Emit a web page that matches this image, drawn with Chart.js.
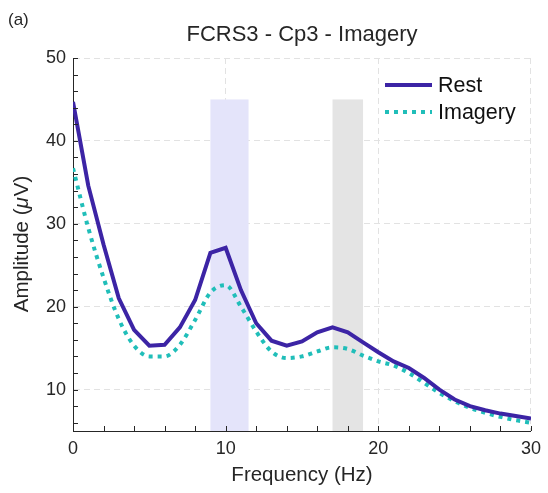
<!DOCTYPE html>
<html>
<head>
<meta charset="utf-8">
<script src="https://cdn.jsdelivr.net/npm/chart.js"></script>
<style>
  html,body{margin:0;padding:0;background:#fff;}
  #wrap{width:548px;height:493px;}
</style>
</head>
<body>
<div id="wrap"><canvas id="fig"></canvas></div>
<script>
// values
const freqs   = [0,1,2,3,4,5,6,7,8,9,10,11,12,13,14,15,16,17,18,19,20,21,22,23,24,25,26,27,28,29,30];
const rest    = [44.7,34.6,27.5,21.0,17.2,15.3,15.4,17.5,20.8,26.5,27.1,22.0,18.0,15.9,15.3,15.8,16.9,17.5,16.9,15.7,14.5,13.4,12.6,11.4,10.0,8.8,8.0,7.5,7.1,6.8,6.5];
const imagery = [36.7,29.5,23.5,18.5,15.3,14.0,14.0,15.4,18.4,21.7,22.6,20.0,17.0,14.6,13.8,14.0,14.6,15.1,14.9,14.1,13.4,12.9,12.0,10.8,9.6,8.6,7.8,7.2,6.7,6.3,6.0];
const xTicks  = [0,10,20,30];
const yTicks  = [10,20,30,40,50];
const bandFrom = [9,17];
const bandTo   = [11.5,19];
const bandTop  = 45;

const FONT = '"Liberation Sans", Arial, Helvetica, sans-serif';
const INK = '#262626';
const REST_C = 'rgb(60,36,165)';
const IMG_C = 'rgb(32,190,185)';
const BAND_C = ['rgba(228,228,250,1)','rgba(228,228,228,1)'];

const bands = {
  id:'bands',
  beforeDatasetsDraw(c){
    const {ctx,chartArea:a,scales:{x,y}} = c;
    ctx.save();
    bandFrom.forEach((f,i)=>{
      const x0=x.getPixelForValue(f), x1=x.getPixelForValue(bandTo[i]);
      const y0=y.getPixelForValue(bandTop);
      ctx.fillStyle=BAND_C[i];
      ctx.fillRect(x0,y0,x1-x0,a.bottom-y0);
    });
    ctx.restore();
  }
};

const deco = {
  id:'deco',
  afterDraw(c){
    const {ctx,chartArea:a,scales:{x,y}} = c;
    ctx.save();
    // inward ticks every 2 units
    ctx.strokeStyle=INK; ctx.lineWidth=1;
    ctx.beginPath();
    for(let v=0; v<=30; v+=2){ const px=Math.round(x.getPixelForValue(v))+0.5; ctx.moveTo(px,a.bottom); ctx.lineTo(px,a.bottom-5); }
    for(let v=6; v<=50; v+=2){ const py=Math.round(y.getPixelForValue(v))+0.5; ctx.moveTo(a.left,py); ctx.lineTo(a.left+5,py); }
    ctx.stroke();

    ctx.fillStyle=INK;
    // panel tag
    ctx.font='17px '+FONT; ctx.textAlign='left'; ctx.textBaseline='alphabetic';
    ctx.fillText('(a)',8,25);
    // title
    ctx.font='22px '+FONT; ctx.textAlign='center';
    ctx.fillText('FCRS3 - Cp3 - Imagery',(a.left+a.right)/2,41);
    // x title
    ctx.font='20.5px '+FONT;
    ctx.fillText('Frequency (Hz)',(a.left+a.right)/2,481);
    // y title with italic mu
    ctx.save();
    ctx.translate(28,(a.top+a.bottom)/2);
    ctx.rotate(-Math.PI/2);
    const p1='Amplitude (', p2='\u03BC', p3='V)';
    ctx.font='20.5px '+FONT; const w1=ctx.measureText(p1).width, w3=ctx.measureText(p3).width;
    ctx.font='italic 20.5px '+FONT; const w2=ctx.measureText(p2).width;
    let sx=-(w1+w2+w3)/2;
    ctx.textAlign='left';
    ctx.font='20.5px '+FONT; ctx.fillText(p1,sx,0); sx+=w1;
    ctx.font='italic 20.5px '+FONT; ctx.fillText(p2,sx,0); sx+=w2+1;
    ctx.font='20.5px '+FONT; ctx.fillText(p3,sx,0);
    ctx.restore();

    // legend inside the axes
    const lx0=385, lx1=432;
    ctx.lineWidth=4;
    ctx.strokeStyle=REST_C; ctx.setLineDash([]);
    ctx.beginPath(); ctx.moveTo(lx0,85); ctx.lineTo(lx1,85); ctx.stroke();
    ctx.strokeStyle=IMG_C; ctx.setLineDash([4,5]);
    ctx.beginPath(); ctx.moveTo(lx0,112); ctx.lineTo(lx1,112); ctx.stroke();
    ctx.setLineDash([]);
    ctx.fillStyle='#111'; ctx.font='21.5px '+FONT; ctx.textAlign='left'; ctx.textBaseline='middle';
    ctx.fillText('Rest',438,86);
    ctx.fillText('Imagery',438,113);
    ctx.restore();
  }
};

new Chart(document.getElementById('fig'),{
  type:'line',
  data:{
    labels:freqs,
    datasets:[
      {label:'Rest',data:freqs.map((f,i)=>({x:f,y:rest[i]})),borderColor:REST_C,borderWidth:4,pointRadius:0,tension:0,borderJoinStyle:'miter'},
      {label:'Imagery',data:freqs.map((f,i)=>({x:f,y:imagery[i]})),borderColor:IMG_C,borderWidth:4,pointRadius:0,borderDash:[4,5],cubicInterpolationMode:'monotone'}
    ]
  },
  options:{
    responsive:true,maintainAspectRatio:false,animation:false,
    layout:{padding:{top:58,right:13,left:0,bottom:0}},
    plugins:{legend:{display:false},tooltip:{enabled:false},title:{display:false}},
    scales:{
      x:{type:'linear',min:0,max:30,
        afterBuildTicks:s=>{s.ticks=xTicks.map(v=>({value:v}));},
        afterFit:s=>{s.height=62;},
        grid:{color:'#e2e2e2',lineWidth:1,drawTicks:false},
        border:{color:INK,width:1,dash:[6,4]},
        ticks:{color:INK,font:{family:FONT,size:18},padding:7,maxRotation:0}},
      y:{min:5,max:50,
        afterBuildTicks:s=>{s.ticks=yTicks.map(v=>({value:v}));},
        afterFit:s=>{s.width=73;},
        grid:{color:'#e2e2e2',lineWidth:1,drawTicks:false},
        border:{color:INK,width:1,dash:[6,4]},
        ticks:{color:INK,font:{family:FONT,size:18},padding:7}}
    }
  },
  plugins:[bands,deco]
});
</script>
</body>
</html>
